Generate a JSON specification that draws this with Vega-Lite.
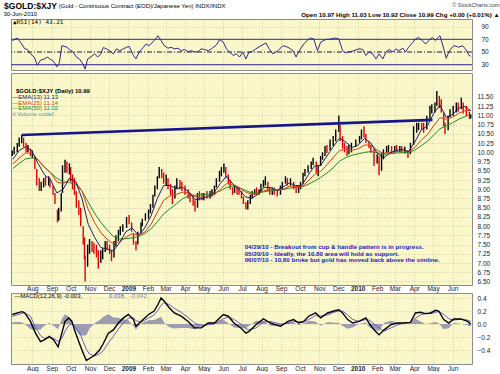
{
"$schema": "https://vega.github.io/schema/vega-lite/v6.json",
"background": "#ffffff",
"padding": {"left": 2, "top": 1, "right": 1, "bottom": 0},
"spacing": 0,
"config": {
 "view": {"fill": "#FAF8CB", "stroke": "#8C8C8C", "strokeWidth": 1},
 "axis": {"title": null, "domain": false, "ticks": false, "labelFont": "Liberation Sans", "labelFontSize": 6.5, "labelColor": "#222222", "gridColor": "#B8B48E", "gridDash": [1, 2], "gridWidth": 0.8, "gridOpacity": 0.8, "labelOverlap": false, "labelFlush": false},
 "text": {"font": "Liberation Sans"}
},
"datasets": {
 "price": [
  {"d":"2008-06-30","o":9.95,"h":10.05,"l":9.9,"c":10.0},
  {"d":"2008-07-03","o":10.0,"h":10.15,"l":9.95,"c":10.1},
  {"d":"2008-07-08","o":10.1,"h":10.25,"l":10.0,"c":10.2},
  {"d":"2008-07-11","o":10.2,"h":10.4,"l":10.15,"c":10.35},
  {"d":"2008-07-15","o":10.35,"h":10.47,"l":10.25,"c":10.42},
  {"d":"2008-07-18","o":10.4,"h":10.4,"l":10.15,"c":10.2},
  {"d":"2008-07-22","o":10.2,"h":10.25,"l":10.0,"c":10.05},
  {"d":"2008-07-25","o":10.05,"h":10.2,"l":10.0,"c":10.12},
  {"d":"2008-07-29","o":10.1,"h":10.1,"l":9.9,"c":9.95},
  {"d":"2008-08-01","o":9.95,"h":10.05,"l":9.85,"c":9.98},
  {"d":"2008-08-05","o":9.9,"h":9.9,"l":9.55,"c":9.6},
  {"d":"2008-08-08","o":9.55,"h":9.55,"l":9.1,"c":9.15},
  {"d":"2008-08-12","o":9.15,"h":9.3,"l":8.95,"c":9.0},
  {"d":"2008-08-15","o":9.0,"h":9.2,"l":8.95,"c":9.15},
  {"d":"2008-08-19","o":9.1,"h":9.3,"l":9.05,"c":9.25},
  {"d":"2008-08-22","o":9.25,"h":9.35,"l":9.1,"c":9.2},
  {"d":"2008-08-27","o":9.15,"h":9.35,"l":9.1,"c":9.3},
  {"d":"2008-08-29","o":9.3,"h":9.3,"l":9.05,"c":9.1},
  {"d":"2008-09-03","o":9.1,"h":9.1,"l":8.85,"c":8.9},
  {"d":"2008-09-06","o":8.9,"h":8.9,"l":8.6,"c":8.65},
  {"d":"2008-09-10","o":8.45,"h":8.45,"l":8.1,"c":8.2},
  {"d":"2008-09-12","o":8.2,"h":8.5,"l":8.15,"c":8.45},
  {"d":"2008-09-16","o":8.45,"h":8.9,"l":8.4,"c":8.85},
  {"d":"2008-09-18","o":8.9,"h":9.65,"l":8.9,"c":9.5},
  {"d":"2008-09-22","o":9.5,"h":9.8,"l":9.45,"c":9.7},
  {"d":"2008-09-25","o":9.7,"h":9.75,"l":9.45,"c":9.55},
  {"d":"2008-09-29","o":9.55,"h":9.7,"l":9.4,"c":9.6},
  {"d":"2008-10-01","o":9.6,"h":9.6,"l":9.2,"c":9.3},
  {"d":"2008-10-04","o":9.3,"h":9.4,"l":9.0,"c":9.2},
  {"d":"2008-10-07","o":9.2,"h":9.3,"l":8.85,"c":8.9},
  {"d":"2008-10-10","o":8.9,"h":8.95,"l":8.5,"c":8.6},
  {"d":"2008-10-14","o":8.6,"h":8.7,"l":8.3,"c":8.4},
  {"d":"2008-10-17","o":8.4,"h":8.5,"l":8.0,"c":8.1},
  {"d":"2008-10-21","o":8.0,"h":8.0,"l":7.5,"c":7.6},
  {"d":"2008-10-23","o":7.6,"h":7.7,"l":7.1,"c":7.2},
  {"d":"2008-10-24","o":7.2,"h":7.2,"l":6.5,"c":6.75},
  {"d":"2008-10-28","o":6.9,"h":7.5,"l":6.9,"c":7.4},
  {"d":"2008-10-31","o":7.35,"h":7.65,"l":7.25,"c":7.5},
  {"d":"2008-11-04","o":7.5,"h":7.6,"l":7.3,"c":7.45},
  {"d":"2008-11-07","o":7.45,"h":7.55,"l":7.25,"c":7.35},
  {"d":"2008-11-11","o":7.35,"h":7.5,"l":7.15,"c":7.25},
  {"d":"2008-11-14","o":7.25,"h":7.35,"l":6.85,"c":7.0},
  {"d":"2008-11-18","o":7.0,"h":7.35,"l":7.0,"c":7.25},
  {"d":"2008-11-21","o":7.25,"h":7.4,"l":7.1,"c":7.3},
  {"d":"2008-11-25","o":7.3,"h":7.6,"l":7.3,"c":7.5},
  {"d":"2008-11-28","o":7.5,"h":7.6,"l":7.35,"c":7.45},
  {"d":"2008-12-02","o":7.45,"h":7.5,"l":7.25,"c":7.3},
  {"d":"2008-12-05","o":7.3,"h":7.35,"l":7.05,"c":7.15},
  {"d":"2008-12-09","o":7.15,"h":7.6,"l":7.15,"c":7.55},
  {"d":"2008-12-12","o":7.55,"h":7.75,"l":7.45,"c":7.65},
  {"d":"2008-12-16","o":7.65,"h":7.9,"l":7.6,"c":7.85},
  {"d":"2008-12-19","o":7.85,"h":8.0,"l":7.75,"c":7.9},
  {"d":"2008-12-23","o":7.9,"h":8.05,"l":7.85,"c":8.0},
  {"d":"2008-12-29","o":8.0,"h":8.25,"l":7.95,"c":8.2},
  {"d":"2009-01-02","o":8.2,"h":8.3,"l":8.05,"c":8.15},
  {"d":"2009-01-06","o":8.1,"h":8.1,"l":7.85,"c":7.9},
  {"d":"2009-01-09","o":7.8,"h":7.8,"l":7.5,"c":7.6},
  {"d":"2009-01-13","o":7.6,"h":7.6,"l":7.35,"c":7.45},
  {"d":"2009-01-16","o":7.5,"h":7.85,"l":7.5,"c":7.8},
  {"d":"2009-01-21","o":7.8,"h":8.1,"l":7.8,"c":8.05},
  {"d":"2009-01-23","o":8.05,"h":8.2,"l":8.0,"c":8.15},
  {"d":"2009-01-28","o":8.2,"h":8.35,"l":8.15,"c":8.3},
  {"d":"2009-02-02","o":8.3,"h":8.45,"l":8.2,"c":8.4},
  {"d":"2009-02-05","o":8.4,"h":8.6,"l":8.35,"c":8.55},
  {"d":"2009-02-09","o":8.55,"h":8.85,"l":8.5,"c":8.8},
  {"d":"2009-02-12","o":8.8,"h":9.1,"l":8.8,"c":9.05},
  {"d":"2009-02-16","o":9.05,"h":9.35,"l":9.0,"c":9.3},
  {"d":"2009-02-19","o":9.3,"h":9.6,"l":9.3,"c":9.55},
  {"d":"2009-02-23","o":9.55,"h":9.55,"l":9.3,"c":9.4},
  {"d":"2009-02-26","o":9.4,"h":9.45,"l":9.15,"c":9.25},
  {"d":"2009-03-02","o":9.25,"h":9.4,"l":9.1,"c":9.3},
  {"d":"2009-03-05","o":9.3,"h":9.3,"l":9.0,"c":9.1},
  {"d":"2009-03-09","o":9.1,"h":9.15,"l":8.85,"c":8.95},
  {"d":"2009-03-12","o":8.95,"h":9.0,"l":8.6,"c":8.75},
  {"d":"2009-03-16","o":8.75,"h":9.1,"l":8.75,"c":9.0},
  {"d":"2009-03-19","o":9.0,"h":9.3,"l":9.0,"c":9.2},
  {"d":"2009-03-24","o":9.2,"h":9.25,"l":9.0,"c":9.1},
  {"d":"2009-03-27","o":9.1,"h":9.2,"l":8.95,"c":9.05},
  {"d":"2009-04-01","o":9.05,"h":9.1,"l":8.85,"c":8.95},
  {"d":"2009-04-06","o":8.95,"h":9.0,"l":8.75,"c":8.85},
  {"d":"2009-04-09","o":8.85,"h":8.9,"l":8.65,"c":8.75},
  {"d":"2009-04-14","o":8.75,"h":8.85,"l":8.55,"c":8.65},
  {"d":"2009-04-17","o":8.65,"h":8.7,"l":8.4,"c":8.5},
  {"d":"2009-04-21","o":8.5,"h":8.9,"l":8.5,"c":8.85},
  {"d":"2009-04-24","o":8.85,"h":8.95,"l":8.7,"c":8.8},
  {"d":"2009-04-28","o":8.8,"h":8.9,"l":8.7,"c":8.75},
  {"d":"2009-05-01","o":8.75,"h":8.9,"l":8.7,"c":8.85},
  {"d":"2009-05-06","o":8.85,"h":8.95,"l":8.75,"c":8.8},
  {"d":"2009-05-11","o":8.8,"h":8.95,"l":8.75,"c":8.9},
  {"d":"2009-05-14","o":8.9,"h":9.0,"l":8.8,"c":8.95},
  {"d":"2009-05-18","o":8.95,"h":9.1,"l":8.85,"c":9.05},
  {"d":"2009-05-21","o":9.05,"h":9.3,"l":9.05,"c":9.25},
  {"d":"2009-05-26","o":9.25,"h":9.5,"l":9.2,"c":9.45},
  {"d":"2009-05-29","o":9.45,"h":9.6,"l":9.35,"c":9.55},
  {"d":"2009-06-02","o":9.55,"h":9.7,"l":9.45,"c":9.6},
  {"d":"2009-06-05","o":9.6,"h":9.6,"l":9.3,"c":9.35},
  {"d":"2009-06-09","o":9.35,"h":9.4,"l":9.15,"c":9.2},
  {"d":"2009-06-12","o":9.2,"h":9.25,"l":9.0,"c":9.05},
  {"d":"2009-06-16","o":9.05,"h":9.05,"l":8.85,"c":8.9},
  {"d":"2009-06-19","o":8.9,"h":9.1,"l":8.9,"c":9.0},
  {"d":"2009-06-23","o":9.0,"h":9.05,"l":8.85,"c":8.95},
  {"d":"2009-06-26","o":8.95,"h":9.05,"l":8.85,"c":8.9},
  {"d":"2009-06-30","o":8.9,"h":8.95,"l":8.75,"c":8.8},
  {"d":"2009-07-03","o":8.8,"h":8.8,"l":8.6,"c":8.65},
  {"d":"2009-07-07","o":8.65,"h":8.65,"l":8.45,"c":8.5},
  {"d":"2009-07-10","o":8.5,"h":8.7,"l":8.45,"c":8.65},
  {"d":"2009-07-14","o":8.65,"h":8.85,"l":8.6,"c":8.8},
  {"d":"2009-07-17","o":8.8,"h":8.95,"l":8.75,"c":8.9},
  {"d":"2009-07-21","o":8.9,"h":9.0,"l":8.85,"c":8.95},
  {"d":"2009-07-24","o":8.95,"h":9.05,"l":8.85,"c":8.9},
  {"d":"2009-07-28","o":8.9,"h":9.0,"l":8.85,"c":8.95},
  {"d":"2009-07-31","o":8.95,"h":9.15,"l":8.9,"c":9.1},
  {"d":"2009-08-04","o":9.1,"h":9.25,"l":9.05,"c":9.2},
  {"d":"2009-08-07","o":9.2,"h":9.35,"l":9.1,"c":9.25},
  {"d":"2009-08-11","o":9.2,"h":9.2,"l":8.95,"c":9.0},
  {"d":"2009-08-14","o":9.0,"h":9.05,"l":8.85,"c":8.95},
  {"d":"2009-08-18","o":8.95,"h":9.05,"l":8.85,"c":9.0},
  {"d":"2009-08-21","o":9.0,"h":9.05,"l":8.85,"c":8.95},
  {"d":"2009-08-26","o":8.95,"h":9.0,"l":8.8,"c":8.9},
  {"d":"2009-08-31","o":8.9,"h":9.1,"l":8.85,"c":9.05},
  {"d":"2009-09-03","o":9.05,"h":9.2,"l":9.0,"c":9.15},
  {"d":"2009-09-08","o":9.15,"h":9.35,"l":9.15,"c":9.3},
  {"d":"2009-09-11","o":9.3,"h":9.3,"l":9.1,"c":9.2},
  {"d":"2009-09-16","o":9.2,"h":9.3,"l":9.1,"c":9.25},
  {"d":"2009-09-21","o":9.2,"h":9.2,"l":9.0,"c":9.05},
  {"d":"2009-09-25","o":9.05,"h":9.1,"l":8.9,"c":8.95},
  {"d":"2009-09-29","o":8.95,"h":9.1,"l":8.9,"c":9.05},
  {"d":"2009-10-02","o":9.05,"h":9.2,"l":9.0,"c":9.15},
  {"d":"2009-10-06","o":9.15,"h":9.45,"l":9.15,"c":9.4},
  {"d":"2009-10-09","o":9.4,"h":9.55,"l":9.35,"c":9.5},
  {"d":"2009-10-14","o":9.5,"h":9.65,"l":9.45,"c":9.6},
  {"d":"2009-10-19","o":9.6,"h":9.75,"l":9.55,"c":9.7},
  {"d":"2009-10-22","o":9.7,"h":9.85,"l":9.65,"c":9.8},
  {"d":"2009-10-27","o":9.75,"h":9.75,"l":9.45,"c":9.5},
  {"d":"2009-10-30","o":9.5,"h":9.65,"l":9.35,"c":9.6},
  {"d":"2009-11-03","o":9.65,"h":9.9,"l":9.63,"c":9.85},
  {"d":"2009-11-06","o":9.85,"h":10.0,"l":9.8,"c":9.95},
  {"d":"2009-11-10","o":9.95,"h":10.17,"l":9.9,"c":10.1},
  {"d":"2009-11-13","o":10.1,"h":10.2,"l":9.98,"c":10.05},
  {"d":"2009-11-18","o":10.05,"h":10.35,"l":10.05,"c":10.3},
  {"d":"2009-11-23","o":10.3,"h":10.44,"l":10.17,"c":10.35},
  {"d":"2009-11-27","o":10.35,"h":10.62,"l":10.3,"c":10.55},
  {"d":"2009-12-02","o":10.55,"h":11.0,"l":10.55,"c":10.7},
  {"d":"2009-12-04","o":10.7,"h":10.75,"l":10.3,"c":10.35},
  {"d":"2009-12-08","o":10.35,"h":10.44,"l":10.1,"c":10.2},
  {"d":"2009-12-11","o":10.2,"h":10.26,"l":10.0,"c":10.1},
  {"d":"2009-12-15","o":10.1,"h":10.17,"l":9.9,"c":10.0},
  {"d":"2009-12-18","o":10.0,"h":10.2,"l":9.95,"c":10.1},
  {"d":"2009-12-22","o":10.1,"h":10.26,"l":10.0,"c":10.15},
  {"d":"2009-12-29","o":10.15,"h":10.35,"l":10.15,"c":10.3},
  {"d":"2010-01-04","o":10.3,"h":10.44,"l":10.26,"c":10.4},
  {"d":"2010-01-07","o":10.4,"h":10.62,"l":10.35,"c":10.55},
  {"d":"2010-01-11","o":10.55,"h":10.71,"l":10.4,"c":10.5},
  {"d":"2010-01-14","o":10.5,"h":10.5,"l":10.26,"c":10.32},
  {"d":"2010-01-19","o":10.32,"h":10.3,"l":10.12,"c":10.2},
  {"d":"2010-01-22","o":10.2,"h":10.2,"l":9.99,"c":10.05},
  {"d":"2010-01-27","o":10.05,"h":10.1,"l":9.63,"c":9.8},
  {"d":"2010-02-01","o":9.8,"h":9.95,"l":9.7,"c":9.85},
  {"d":"2010-02-04","o":9.85,"h":9.9,"l":9.38,"c":9.5},
  {"d":"2010-02-08","o":9.5,"h":9.99,"l":9.5,"c":9.85},
  {"d":"2010-02-11","o":9.85,"h":10.08,"l":9.81,"c":10.0},
  {"d":"2010-02-16","o":10.0,"h":10.17,"l":9.99,"c":10.1},
  {"d":"2010-02-19","o":10.1,"h":10.2,"l":10.0,"c":10.12},
  {"d":"2010-02-24","o":10.12,"h":10.17,"l":9.99,"c":10.05},
  {"d":"2010-03-01","o":10.05,"h":10.17,"l":9.99,"c":10.12},
  {"d":"2010-03-04","o":10.12,"h":10.2,"l":10.02,"c":10.08},
  {"d":"2010-03-09","o":10.08,"h":10.17,"l":10.0,"c":10.12},
  {"d":"2010-03-12","o":10.12,"h":10.17,"l":9.99,"c":10.05},
  {"d":"2010-03-17","o":10.05,"h":10.15,"l":9.97,"c":10.08},
  {"d":"2010-03-22","o":10.05,"h":10.05,"l":9.85,"c":9.92},
  {"d":"2010-03-26","o":9.92,"h":10.26,"l":9.95,"c":10.2},
  {"d":"2010-03-31","o":10.2,"h":10.71,"l":10.2,"c":10.6},
  {"d":"2010-04-05","o":10.6,"h":10.8,"l":10.53,"c":10.7},
  {"d":"2010-04-08","o":10.7,"h":10.8,"l":10.6,"c":10.75},
  {"d":"2010-04-13","o":10.75,"h":10.8,"l":10.62,"c":10.7},
  {"d":"2010-04-16","o":10.7,"h":10.8,"l":10.53,"c":10.6},
  {"d":"2010-04-21","o":10.6,"h":10.99,"l":10.62,"c":10.9},
  {"d":"2010-04-26","o":10.9,"h":11.26,"l":10.89,"c":11.15},
  {"d":"2010-04-29","o":11.15,"h":11.3,"l":11.05,"c":11.2},
  {"d":"2010-05-04","o":11.2,"h":11.35,"l":11.08,"c":11.3},
  {"d":"2010-05-07","o":11.3,"h":11.66,"l":11.26,"c":11.5},
  {"d":"2010-05-11","o":11.5,"h":11.53,"l":11.2,"c":11.3},
  {"d":"2010-05-14","o":11.3,"h":11.44,"l":11.08,"c":11.15},
  {"d":"2010-05-18","o":11.08,"h":11.08,"l":10.71,"c":10.8},
  {"d":"2010-05-20","o":10.8,"h":10.8,"l":10.5,"c":10.6},
  {"d":"2010-05-25","o":10.6,"h":10.99,"l":10.6,"c":10.9},
  {"d":"2010-05-28","o":10.9,"h":11.17,"l":10.95,"c":11.1},
  {"d":"2010-06-02","o":11.1,"h":11.26,"l":10.99,"c":11.15},
  {"d":"2010-06-07","o":11.15,"h":11.35,"l":11.08,"c":11.25},
  {"d":"2010-06-10","o":11.25,"h":11.35,"l":11.1,"c":11.2},
  {"d":"2010-06-15","o":11.2,"h":11.48,"l":11.17,"c":11.4},
  {"d":"2010-06-18","o":11.4,"h":11.35,"l":11.05,"c":11.15},
  {"d":"2010-06-23","o":11.15,"h":11.26,"l":10.99,"c":11.1},
  {"d":"2010-06-28","o":11.1,"h":11.1,"l":10.9,"c":11.0},
  {"d":"2010-06-30","o":10.97,"h":11.03,"l":10.92,"c":10.99}
 ],
 "ema": [
  {"d":"2008-07-01","e13":9.81,"e25":9.68,"e50":9.56},
  {"d":"2008-07-11","e13":10.05,"e25":9.85,"e50":9.7},
  {"d":"2008-07-21","e13":10.15,"e25":9.98,"e50":9.82},
  {"d":"2008-07-31","e13":10.05,"e25":9.98,"e50":9.85},
  {"d":"2008-08-10","e13":9.7,"e25":9.8,"e50":9.8},
  {"d":"2008-08-20","e13":9.4,"e25":9.6,"e50":9.6},
  {"d":"2008-08-30","e13":9.25,"e25":9.45,"e50":9.45},
  {"d":"2008-09-09","e13":8.9,"e25":9.2,"e50":9.3},
  {"d":"2008-09-19","e13":9.0,"e25":9.15,"e50":9.2},
  {"d":"2008-09-29","e13":9.3,"e25":9.25,"e50":9.18},
  {"d":"2008-10-09","e13":9.2,"e25":9.2,"e50":9.12},
  {"d":"2008-10-19","e13":8.75,"e25":8.95,"e50":8.95},
  {"d":"2008-10-29","e13":8.05,"e25":8.45,"e50":8.65},
  {"d":"2008-11-08","e13":7.7,"e25":8.1,"e50":8.35},
  {"d":"2008-11-18","e13":7.42,"e25":7.82,"e50":8.1},
  {"d":"2008-11-28","e13":7.38,"e25":7.65,"e50":7.9},
  {"d":"2008-12-08","e13":7.33,"e25":7.52,"e50":7.72},
  {"d":"2008-12-18","e13":7.55,"e25":7.58,"e50":7.65},
  {"d":"2008-12-28","e13":7.85,"e25":7.7,"e50":7.66},
  {"d":"2009-01-07","e13":7.95,"e25":7.8,"e50":7.68},
  {"d":"2009-01-17","e13":7.75,"e25":7.76,"e50":7.72},
  {"d":"2009-01-27","e13":7.95,"e25":7.84,"e50":7.8},
  {"d":"2009-02-06","e13":8.28,"e25":8.05,"e50":7.93},
  {"d":"2009-02-16","e13":8.75,"e25":8.38,"e50":8.12},
  {"d":"2009-02-26","e13":9.1,"e25":8.7,"e50":8.33},
  {"d":"2009-03-08","e13":9.1,"e25":8.82,"e50":8.47},
  {"d":"2009-03-18","e13":9.02,"e25":8.86,"e50":8.6},
  {"d":"2009-03-28","e13":9.05,"e25":8.92,"e50":8.74},
  {"d":"2009-04-07","e13":8.93,"e25":8.9,"e50":8.82},
  {"d":"2009-04-17","e13":8.72,"e25":8.8,"e50":8.84},
  {"d":"2009-04-27","e13":8.74,"e25":8.77,"e50":8.85},
  {"d":"2009-05-07","e13":8.8,"e25":8.79,"e50":8.86},
  {"d":"2009-05-17","e13":8.9,"e25":8.84,"e50":8.9},
  {"d":"2009-05-27","e13":9.15,"e25":9.0,"e50":8.95},
  {"d":"2009-06-06","e13":9.35,"e25":9.15,"e50":9.05},
  {"d":"2009-06-16","e13":9.15,"e25":9.12,"e50":9.08},
  {"d":"2009-06-26","e13":9.0,"e25":9.05,"e50":9.04},
  {"d":"2009-07-06","e13":8.8,"e25":8.93,"e50":8.97},
  {"d":"2009-07-16","e13":8.75,"e25":8.86,"e50":8.9},
  {"d":"2009-07-26","e13":8.86,"e25":8.88,"e50":8.9},
  {"d":"2009-08-05","e13":9.05,"e25":8.96,"e50":8.93},
  {"d":"2009-08-15","e13":9.05,"e25":9.0,"e50":8.96},
  {"d":"2009-08-25","e13":8.97,"e25":8.97,"e50":8.97},
  {"d":"2009-09-04","e13":9.06,"e25":9.0,"e50":8.99},
  {"d":"2009-09-14","e13":9.17,"e25":9.08,"e50":9.03},
  {"d":"2009-09-24","e13":9.1,"e25":9.08,"e50":9.05},
  {"d":"2009-10-04","e13":9.1,"e25":9.07,"e50":9.06},
  {"d":"2009-10-14","e13":9.38,"e25":9.22,"e50":9.13},
  {"d":"2009-10-24","e13":9.62,"e25":9.4,"e50":9.22},
  {"d":"2009-11-03","e13":9.65,"e25":9.48,"e50":9.32},
  {"d":"2009-11-13","e13":9.9,"e25":9.66,"e50":9.44},
  {"d":"2009-11-23","e13":10.15,"e25":9.86,"e50":9.58},
  {"d":"2009-12-03","e13":10.38,"e25":10.05,"e50":9.76},
  {"d":"2009-12-13","e13":10.28,"e25":10.08,"e50":9.86},
  {"d":"2009-12-23","e13":10.13,"e25":10.06,"e50":9.92},
  {"d":"2010-01-02","e13":10.2,"e25":10.1,"e50":9.96},
  {"d":"2010-01-12","e13":10.38,"e25":10.2,"e50":10.0},
  {"d":"2010-01-22","e13":10.25,"e25":10.19,"e50":10.02},
  {"d":"2010-02-01","e13":9.98,"e25":10.06,"e50":9.99},
  {"d":"2010-02-11","e13":9.85,"e25":9.97,"e50":9.95},
  {"d":"2010-02-21","e13":9.98,"e25":10.0,"e50":9.96},
  {"d":"2010-03-03","e13":10.05,"e25":10.02,"e50":9.98},
  {"d":"2010-03-13","e13":10.08,"e25":10.04,"e50":9.99},
  {"d":"2010-03-23","e13":10.02,"e25":10.03,"e50":10.0},
  {"d":"2010-04-02","e13":10.28,"e25":10.13,"e50":10.06},
  {"d":"2010-04-12","e13":10.6,"e25":10.33,"e50":10.18},
  {"d":"2010-04-22","e13":10.72,"e25":10.48,"e50":10.3},
  {"d":"2010-05-02","e13":11.05,"e25":10.72,"e50":10.47},
  {"d":"2010-05-12","e13":11.28,"e25":10.94,"e50":10.64},
  {"d":"2010-05-22","e13":10.95,"e25":10.9,"e50":10.72},
  {"d":"2010-06-01","e13":11.02,"e25":10.95,"e50":10.8},
  {"d":"2010-06-11","e13":11.2,"e25":11.06,"e50":10.9},
  {"d":"2010-06-21","e13":11.24,"e25":11.13,"e50":10.97},
  {"d":"2010-06-30","e13":11.13,"e25":11.14,"e50":11.02}
 ],
 "trend": [
  {"d":"2008-07-15","v":10.47},
  {"d":"2010-04-30","v":10.88}
 ],
 "rsi": [
  {"d":"2008-06-30","rsi":68},{"d":"2008-07-08","rsi":72},{"d":"2008-07-13","rsi":65.5},{"d":"2008-07-20","rsi":55},
  {"d":"2008-07-24","rsi":54},{"d":"2008-07-29","rsi":47},{"d":"2008-08-04","rsi":42},{"d":"2008-08-09","rsi":29},
  {"d":"2008-08-14","rsi":37},{"d":"2008-08-20","rsi":39},{"d":"2008-08-25","rsi":42},{"d":"2008-08-29","rsi":39},
  {"d":"2008-09-04","rsi":35},{"d":"2008-09-09","rsi":26.5},{"d":"2008-09-13","rsi":33},{"d":"2008-09-17","rsi":60},
  {"d":"2008-09-20","rsi":59},{"d":"2008-09-25","rsi":57.5},{"d":"2008-09-29","rsi":54},{"d":"2008-10-05","rsi":50},
  {"d":"2008-10-10","rsi":42},{"d":"2008-10-15","rsi":39},{"d":"2008-10-21","rsi":30},{"d":"2008-10-24","rsi":23},
  {"d":"2008-10-28","rsi":39},{"d":"2008-11-02","rsi":42},{"d":"2008-11-08","rsi":47},{"d":"2008-11-13","rsi":42},
  {"d":"2008-11-18","rsi":47},{"d":"2008-11-22","rsi":57},{"d":"2008-11-27","rsi":55},{"d":"2008-12-02","rsi":52},
  {"d":"2008-12-08","rsi":47},{"d":"2008-12-13","rsi":55},{"d":"2008-12-18","rsi":52},{"d":"2008-12-24","rsi":55},
  {"d":"2008-12-29","rsi":57.5},{"d":"2009-01-02","rsi":59},{"d":"2009-01-09","rsi":44.5},{"d":"2009-01-13","rsi":39},
  {"d":"2009-01-18","rsi":50},{"d":"2009-01-25","rsi":57.5},{"d":"2009-01-29","rsi":62.5},{"d":"2009-02-03","rsi":60},
  {"d":"2009-02-09","rsi":66},{"d":"2009-02-14","rsi":71.5},{"d":"2009-02-17","rsi":75.5},{"d":"2009-02-22","rsi":68},
  {"d":"2009-02-27","rsi":60},{"d":"2009-03-05","rsi":56},{"d":"2009-03-10","rsi":57.5},{"d":"2009-03-15","rsi":55},
  {"d":"2009-03-21","rsi":56},{"d":"2009-03-26","rsi":52},{"d":"2009-03-31","rsi":54},{"d":"2009-04-06","rsi":50.5},
  {"d":"2009-04-11","rsi":52},{"d":"2009-04-16","rsi":50},{"d":"2009-04-22","rsi":50.5},{"d":"2009-04-27","rsi":55},
  {"d":"2009-05-02","rsi":54},{"d":"2009-05-08","rsi":52},{"d":"2009-05-13","rsi":55},{"d":"2009-05-21","rsi":61},
  {"d":"2009-05-26","rsi":69.5},{"d":"2009-06-01","rsi":65.5},{"d":"2009-06-06","rsi":55},{"d":"2009-06-11","rsi":50},
  {"d":"2009-06-17","rsi":44.5},{"d":"2009-06-22","rsi":47},{"d":"2009-06-27","rsi":42},{"d":"2009-07-02","rsi":50},
  {"d":"2009-07-07","rsi":39},{"d":"2009-07-12","rsi":50},{"d":"2009-07-16","rsi":50},{"d":"2009-07-23","rsi":55},
  {"d":"2009-07-31","rsi":60},{"d":"2009-08-08","rsi":64},{"d":"2009-08-13","rsi":55},{"d":"2009-08-19","rsi":47},
  {"d":"2009-08-27","rsi":52},{"d":"2009-09-04","rsi":60},{"d":"2009-09-12","rsi":57.5},{"d":"2009-09-20","rsi":52},
  {"d":"2009-09-25","rsi":42},{"d":"2009-09-29","rsi":50.5},{"d":"2009-10-07","rsi":62.5},{"d":"2009-10-14","rsi":69.5},
  {"d":"2009-10-18","rsi":72},{"d":"2009-10-23","rsi":70.5},{"d":"2009-10-29","rsi":52},{"d":"2009-11-03","rsi":65.5},
  {"d":"2009-11-11","rsi":69.5},{"d":"2009-11-19","rsi":70.5},{"d":"2009-11-27","rsi":72},{"d":"2009-12-02","rsi":70.5},
  {"d":"2009-12-08","rsi":52},{"d":"2009-12-13","rsi":48.5},{"d":"2009-12-18","rsi":50},{"d":"2009-12-26","rsi":52},
  {"d":"2010-01-03","rsi":55},{"d":"2010-01-09","rsi":54},{"d":"2010-01-14","rsi":44.5},{"d":"2010-01-19","rsi":50},
  {"d":"2010-01-25","rsi":47},{"d":"2010-01-30","rsi":39},{"d":"2010-02-04","rsi":47},{"d":"2010-02-10","rsi":39},
  {"d":"2010-02-15","rsi":50},{"d":"2010-02-20","rsi":54},{"d":"2010-02-26","rsi":50},{"d":"2010-03-03","rsi":55},
  {"d":"2010-03-07","rsi":52},{"d":"2010-03-14","rsi":56},{"d":"2010-03-18","rsi":50},{"d":"2010-03-23","rsi":57.5},
  {"d":"2010-03-30","rsi":65.5},{"d":"2010-04-03","rsi":70.5},{"d":"2010-04-08","rsi":73},{"d":"2010-04-14","rsi":68},
  {"d":"2010-04-19","rsi":62.5},{"d":"2010-04-24","rsi":68},{"d":"2010-04-30","rsi":73},{"d":"2010-05-05","rsi":68},
  {"d":"2010-05-08","rsi":72},{"d":"2010-05-12","rsi":75.5},{"d":"2010-05-15","rsi":66},{"d":"2010-05-18","rsi":55},
  {"d":"2010-05-22","rsi":40},{"d":"2010-05-27","rsi":52},{"d":"2010-06-03","rsi":60},{"d":"2010-06-11","rsi":57.5},
  {"d":"2010-06-17","rsi":60},{"d":"2010-06-22","rsi":54},{"d":"2010-06-27","rsi":45},{"d":"2010-06-30","rsi":43.21}
 ],
 "macd": [
  {"d":"2008-06-30","macd":0.146,"sig":0.12,"hist":0.026},
  {"d":"2008-07-11","macd":0.18,"sig":0.15,"hist":0.03},
  {"d":"2008-07-16","macd":0.19,"sig":0.165,"hist":0.025},
  {"d":"2008-07-20","macd":0.17,"sig":0.17,"hist":0.0},
  {"d":"2008-07-29","macd":0.04,"sig":0.12,"hist":-0.08},
  {"d":"2008-08-06","macd":-0.14,"sig":-0.05,"hist":-0.09},
  {"d":"2008-08-14","macd":-0.27,"sig":-0.18,"hist":-0.09},
  {"d":"2008-08-20","macd":-0.245,"sig":-0.22,"hist":-0.025},
  {"d":"2008-08-28","macd":-0.19,"sig":-0.21,"hist":0.02},
  {"d":"2008-09-04","macd":-0.245,"sig":-0.22,"hist":-0.025},
  {"d":"2008-09-11","macd":-0.35,"sig":-0.27,"hist":-0.08},
  {"d":"2008-09-17","macd":-0.14,"sig":-0.22,"hist":0.08},
  {"d":"2008-09-22","macd":0.04,"sig":-0.11,"hist":0.15},
  {"d":"2008-09-28","macd":0.094,"sig":-0.02,"hist":0.114},
  {"d":"2008-10-03","macd":0.04,"sig":0.0,"hist":0.04},
  {"d":"2008-10-07","macd":-0.09,"sig":-0.03,"hist":-0.06},
  {"d":"2008-10-15","macd":-0.3,"sig":-0.13,"hist":-0.17},
  {"d":"2008-10-21","macd":-0.45,"sig":-0.27,"hist":-0.18},
  {"d":"2008-10-26","macd":-0.56,"sig":-0.39,"hist":-0.17},
  {"d":"2008-10-31","macd":-0.53,"sig":-0.46,"hist":-0.07},
  {"d":"2008-11-08","macd":-0.48,"sig":-0.49,"hist":0.01},
  {"d":"2008-11-16","macd":-0.4,"sig":-0.46,"hist":0.06},
  {"d":"2008-11-22","macd":-0.3,"sig":-0.41,"hist":0.11},
  {"d":"2008-11-30","macd":-0.14,"sig":-0.29,"hist":0.15},
  {"d":"2008-12-08","macd":-0.09,"sig":-0.19,"hist":0.1},
  {"d":"2008-12-16","macd":0.015,"sig":-0.08,"hist":0.095},
  {"d":"2008-12-24","macd":0.094,"sig":0.02,"hist":0.074},
  {"d":"2009-01-01","macd":0.146,"sig":0.09,"hist":0.056},
  {"d":"2009-01-09","macd":0.068,"sig":0.1,"hist":-0.032},
  {"d":"2009-01-13","macd":-0.036,"sig":0.05,"hist":-0.086},
  {"d":"2009-01-21","macd":0.04,"sig":0.03,"hist":0.01},
  {"d":"2009-02-02","macd":0.146,"sig":0.09,"hist":0.056},
  {"d":"2009-02-11","macd":0.2,"sig":0.14,"hist":0.06},
  {"d":"2009-02-17","macd":0.3,"sig":0.21,"hist":0.09},
  {"d":"2009-02-22","macd":0.4,"sig":0.29,"hist":0.11},
  {"d":"2009-02-27","macd":0.35,"sig":0.33,"hist":0.02},
  {"d":"2009-03-07","macd":0.25,"sig":0.3,"hist":-0.05},
  {"d":"2009-03-15","macd":0.17,"sig":0.24,"hist":-0.07},
  {"d":"2009-03-26","macd":0.12,"sig":0.18,"hist":-0.06},
  {"d":"2009-04-06","macd":0.04,"sig":0.1,"hist":-0.06},
  {"d":"2009-04-16","macd":-0.06,"sig":0.02,"hist":-0.08},
  {"d":"2009-04-27","macd":-0.06,"sig":-0.03,"hist":-0.03},
  {"d":"2009-05-08","macd":0.015,"sig":-0.01,"hist":0.025},
  {"d":"2009-05-18","macd":0.015,"sig":0.0,"hist":0.015},
  {"d":"2009-06-01","macd":0.146,"sig":0.08,"hist":0.066},
  {"d":"2009-06-09","macd":0.12,"sig":0.11,"hist":0.01},
  {"d":"2009-06-18","macd":0.015,"sig":0.07,"hist":-0.055},
  {"d":"2009-06-29","macd":-0.06,"sig":0.0,"hist":-0.06},
  {"d":"2009-07-07","macd":-0.14,"sig":-0.07,"hist":-0.07},
  {"d":"2009-07-12","macd":-0.115,"sig":-0.09,"hist":-0.025},
  {"d":"2009-07-23","macd":-0.01,"sig":-0.06,"hist":0.05},
  {"d":"2009-08-04","macd":0.078,"sig":0.03,"hist":0.048},
  {"d":"2009-08-15","macd":0.015,"sig":0.04,"hist":-0.025},
  {"d":"2009-08-31","macd":-0.036,"sig":0.0,"hist":-0.036},
  {"d":"2009-09-12","macd":0.04,"sig":0.01,"hist":0.03},
  {"d":"2009-09-21","macd":0.068,"sig":0.04,"hist":0.028},
  {"d":"2009-09-29","macd":0.015,"sig":0.035,"hist":-0.02},
  {"d":"2009-10-07","macd":0.04,"sig":0.03,"hist":0.01},
  {"d":"2009-10-15","macd":0.12,"sig":0.07,"hist":0.05},
  {"d":"2009-10-26","macd":0.17,"sig":0.13,"hist":0.04},
  {"d":"2009-11-03","macd":0.094,"sig":0.12,"hist":-0.026},
  {"d":"2009-11-14","macd":0.17,"sig":0.14,"hist":0.03},
  {"d":"2009-11-24","macd":0.2,"sig":0.18,"hist":0.02},
  {"d":"2009-12-02","macd":0.22,"sig":0.2,"hist":0.02},
  {"d":"2009-12-08","macd":0.17,"sig":0.2,"hist":-0.03},
  {"d":"2009-12-16","macd":0.068,"sig":0.14,"hist":-0.072},
  {"d":"2009-12-24","macd":0.015,"sig":0.07,"hist":-0.055},
  {"d":"2010-01-03","macd":0.04,"sig":0.04,"hist":0.0},
  {"d":"2010-01-14","macd":0.094,"sig":0.07,"hist":0.024},
  {"d":"2010-01-19","macd":0.015,"sig":0.06,"hist":-0.045},
  {"d":"2010-01-27","macd":-0.09,"sig":0.0,"hist":-0.09},
  {"d":"2010-02-04","macd":-0.167,"sig":-0.06,"hist":-0.107},
  {"d":"2010-02-12","macd":-0.09,"sig":-0.11,"hist":0.02},
  {"d":"2010-02-23","macd":-0.01,"sig":-0.06,"hist":0.05},
  {"d":"2010-03-06","macd":0.015,"sig":-0.01,"hist":0.025},
  {"d":"2010-03-15","macd":0.015,"sig":0.01,"hist":0.005},
  {"d":"2010-03-26","macd":0.026,"sig":0.02,"hist":0.006},
  {"d":"2010-04-03","macd":0.17,"sig":0.09,"hist":0.08},
  {"d":"2010-04-11","macd":0.18,"sig":0.14,"hist":0.04},
  {"d":"2010-04-19","macd":0.16,"sig":0.16,"hist":0.0},
  {"d":"2010-04-27","macd":0.17,"sig":0.16,"hist":0.01},
  {"d":"2010-05-05","macd":0.21,"sig":0.18,"hist":0.03},
  {"d":"2010-05-10","macd":0.2,"sig":0.19,"hist":0.01},
  {"d":"2010-05-18","macd":0.068,"sig":0.15,"hist":-0.082},
  {"d":"2010-05-26","macd":0.015,"sig":0.08,"hist":-0.065},
  {"d":"2010-06-03","macd":0.078,"sig":0.06,"hist":0.018},
  {"d":"2010-06-14","macd":0.078,"sig":0.075,"hist":0.003},
  {"d":"2010-06-25","macd":0.04,"sig":0.06,"hist":-0.02},
  {"d":"2010-06-30","macd":-0.003,"sig":0.038,"hist":-0.042}
 ]
},
"vconcat": [
 {
  "width": 461, "height": 51,
  "layer": [
   {"data": {"values": [{"lvl": 70}, {"lvl": 30}]}, "mark": {"type": "rule", "color": "#5B4FA6", "strokeWidth": 1.2},
    "encoding": {"y": {"field": "lvl", "type": "quantitative"}}},
   {"data": {"values": [{"lvl": 50}]}, "mark": {"type": "rule", "color": "#222244", "strokeWidth": 1, "strokeDash": [5, 2, 1, 2]},
    "encoding": {"y": {"field": "lvl", "type": "quantitative"}}},
   {"data": {"name": "rsi"}, "mark": {"type": "line", "color": "#2A2A8A", "strokeWidth": 1},
    "encoding": {
     "x": {"field": "d", "type": "temporal",
      "scale": {"type": "utc", "domain": [{"year": 2008, "month": 6, "date": 28, "utc": true}, {"year": 2010, "month": 7, "date": 2, "utc": true}]},
      "axis": {"labels": false, "grid": true, "tickCount": 200, "labelPadding": 0, "minExtent": 0, "maxExtent": 0, "values": [{"year":2008,"month":8,"date":1,"utc":true},{"year":2008,"month":9,"date":1,"utc":true},{"year":2008,"month":10,"date":1,"utc":true},{"year":2008,"month":11,"date":1,"utc":true},{"year":2008,"month":12,"date":1,"utc":true},{"year":2009,"month":1,"date":1,"utc":true},{"year":2009,"month":2,"date":1,"utc":true},{"year":2009,"month":3,"date":1,"utc":true},{"year":2009,"month":4,"date":1,"utc":true},{"year":2009,"month":5,"date":1,"utc":true},{"year":2009,"month":6,"date":1,"utc":true},{"year":2009,"month":7,"date":1,"utc":true},{"year":2009,"month":8,"date":1,"utc":true},{"year":2009,"month":9,"date":1,"utc":true},{"year":2009,"month":10,"date":1,"utc":true},{"year":2009,"month":11,"date":1,"utc":true},{"year":2009,"month":12,"date":1,"utc":true},{"year":2010,"month":1,"date":1,"utc":true},{"year":2010,"month":2,"date":1,"utc":true},{"year":2010,"month":3,"date":1,"utc":true},{"year":2010,"month":4,"date":1,"utc":true},{"year":2010,"month":5,"date":1,"utc":true},{"year":2010,"month":6,"date":1,"utc":true}]}},
     "y": {"field": "rsi", "type": "quantitative", "scale": {"domain": [21.6, 102], "nice": false, "zero": false},
      "axis": {"orient": "right", "values": [30, 50, 70, 90], "format": "d", "tickCount": 200, "grid": true, "labelPadding": 9, "labelOverlap": false}}}},
   {"data": {"values": [{"d": "2008-06-17", "v": 123, "t": "$GOLD:$XJY"}]}, "mark": {"type": "text", "fontWeight": "bold", "fontSize": 8.5, "align": "left", "baseline": "middle", "color": "#000000"},
    "encoding": {"x": {"field": "d", "type": "temporal"}, "y": {"field": "v", "type": "quantitative"}, "text": {"field": "t"}}},
   {"data": {"values": [{"d": "2008-09-12", "v": 123, "t": "(Gold - Continuous Contract (EOD)/Japanese Yen) INDX/INDX"}]}, "mark": {"type": "text", "fontSize": 6, "align": "left", "baseline": "middle", "color": "#000000"},
    "encoding": {"x": {"field": "d", "type": "temporal"}, "y": {"field": "v", "type": "quantitative"}, "text": {"field": "t"}}},
   {"data": {"values": [{"d": "2008-06-16", "v": 110, "t": "30-Jun-2010"}]}, "mark": {"type": "text", "fontSize": 6, "align": "left", "baseline": "middle", "color": "#000000"},
    "encoding": {"x": {"field": "d", "type": "temporal"}, "y": {"field": "v", "type": "quantitative"}, "text": {"field": "t"}}},
   {"data": {"values": [{"d": "2010-08-15", "v": 124.5, "t": "© StockCharts.com"}]}, "mark": {"type": "text", "fontSize": 5.5, "align": "right", "baseline": "middle", "color": "#444444"},
    "encoding": {"x": {"field": "d", "type": "temporal"}, "y": {"field": "v", "type": "quantitative"}, "text": {"field": "t"}}},
   {"data": {"values": [{"d": "2010-08-15", "v": 109, "t": "Open 10.97  High 11.03  Low 10.92  Close 10.99  Chg +0.00 (+0.01%) ▲"}]}, "mark": {"type": "text", "fontSize": 6.2, "fontWeight": "bold", "align": "right", "baseline": "middle", "color": "#000000"},
    "encoding": {"x": {"field": "d", "type": "temporal"}, "y": {"field": "v", "type": "quantitative"}, "text": {"field": "t"}}},
   {"data": {"values": [{"d": "2008-07-01", "v": 97, "t": "▲RSI(14) 43.21"}]}, "mark": {"type": "text", "font": "DejaVu Sans Mono", "fontSize": 6, "align": "left", "baseline": "middle", "color": "#000000"},
    "encoding": {"x": {"field": "d", "type": "temporal"}, "y": {"field": "v", "type": "quantitative"}, "text": {"field": "t"}}}
  ]
 },
 {
  "width": 461, "height": 212,
  "layer": [
   {"data": {"name": "price"}, "mark": {"type": "rule", "strokeWidth": 1.4},
    "encoding": {
     "x": {"field": "d", "type": "temporal",
      "scale": {"type": "utc", "domain": [{"year": 2008, "month": 6, "date": 28, "utc": true}, {"year": 2010, "month": 7, "date": 2, "utc": true}]},
      "axis": {"labels": true, "grid": true, "tickCount": 200, "labelPadding": 0, "maxExtent": 7, "labelFontSize": 6.5, "labelOverlap": false,
       "labelExpr": "utcmonth(datum.value) == 0 ? utcFormat(datum.value, '%Y') : utcFormat(datum.value, '%b')",
       "labelFontWeight": {"condition": {"test": "utcmonth(datum.value) == 0", "value": "bold"}, "value": "normal"},
       "values": [{"year":2008,"month":8,"date":1,"utc":true},{"year":2008,"month":9,"date":1,"utc":true},{"year":2008,"month":10,"date":1,"utc":true},{"year":2008,"month":11,"date":1,"utc":true},{"year":2008,"month":12,"date":1,"utc":true},{"year":2009,"month":1,"date":1,"utc":true},{"year":2009,"month":2,"date":1,"utc":true},{"year":2009,"month":3,"date":1,"utc":true},{"year":2009,"month":4,"date":1,"utc":true},{"year":2009,"month":5,"date":1,"utc":true},{"year":2009,"month":6,"date":1,"utc":true},{"year":2009,"month":7,"date":1,"utc":true},{"year":2009,"month":8,"date":1,"utc":true},{"year":2009,"month":9,"date":1,"utc":true},{"year":2009,"month":10,"date":1,"utc":true},{"year":2009,"month":11,"date":1,"utc":true},{"year":2009,"month":12,"date":1,"utc":true},{"year":2010,"month":1,"date":1,"utc":true},{"year":2010,"month":2,"date":1,"utc":true},{"year":2010,"month":3,"date":1,"utc":true},{"year":2010,"month":4,"date":1,"utc":true},{"year":2010,"month":5,"date":1,"utc":true},{"year":2010,"month":6,"date":1,"utc":true}]}},
     "y": {"field": "l", "type": "quantitative", "scale": {"domain": [6.405, 12.15], "nice": false, "zero": false},
       "axis": {"orient": "right", "tickCount": 200, "values": [6.5,6.75,7,7.25,7.5,7.75,8,8.25,8.5,8.75,9,9.25,9.5,9.75,10,10.25,10.5,10.75,11,11.25,11.5], "format": ".2f", "grid": true, "labelPadding": 5, "labelOverlap": false}},
     "y2": {"field": "h"},
     "color": {"condition": {"test": "datum.c >= datum.o", "value": "#000000"}, "value": "#E00000"}}},
   {"data": {"name": "ema"}, "mark": {"type": "line", "color": "#208A20", "strokeWidth": 1}, "encoding": {"x": {"field": "d", "type": "temporal"}, "y": {"field": "e50", "type": "quantitative"}}},
   {"data": {"name": "ema"}, "mark": {"type": "line", "color": "#E03A10", "strokeWidth": 1}, "encoding": {"x": {"field": "d", "type": "temporal"}, "y": {"field": "e25", "type": "quantitative"}}},
   {"data": {"name": "ema"}, "mark": {"type": "line", "color": "#1C1C6E", "strokeWidth": 1}, "encoding": {"x": {"field": "d", "type": "temporal"}, "y": {"field": "e13", "type": "quantitative"}}},
   {"data": {"name": "trend"}, "mark": {"type": "line", "color": "#15158C", "strokeWidth": 2.6}, "encoding": {"x": {"field": "d", "type": "temporal"}, "y": {"field": "v", "type": "quantitative"}}},
   {"data": {"values": [{"d": "2008-07-06", "v": 11.66, "t": "$GOLD:$XJY (Daily) 10.99"}]}, "mark": {"type": "text", "fontWeight": "bold", "fontSize": 6, "align": "left", "baseline": "middle", "color": "#000000"},
    "encoding": {"x": {"field": "d", "type": "temporal"}, "y": {"field": "v", "type": "quantitative"}, "text": {"field": "t"}}},
   {"data": {"values": [{"d": "2008-06-30", "v": 11.51, "t": "—EMA(13) 11.13"}]}, "mark": {"type": "text", "fontSize": 6, "align": "left", "baseline": "middle", "color": "#1C1C6E"},
    "encoding": {"x": {"field": "d", "type": "temporal"}, "y": {"field": "v", "type": "quantitative"}, "text": {"field": "t"}}},
   {"data": {"values": [{"d": "2008-06-30", "v": 11.35, "t": "—EMA(25) 11.14"}]}, "mark": {"type": "text", "fontSize": 6, "align": "left", "baseline": "middle", "color": "#E03A10"},
    "encoding": {"x": {"field": "d", "type": "temporal"}, "y": {"field": "v", "type": "quantitative"}, "text": {"field": "t"}}},
   {"data": {"values": [{"d": "2008-06-30", "v": 11.19, "t": "—EMA(50) 11.02"}]}, "mark": {"type": "text", "fontSize": 6, "align": "left", "baseline": "middle", "color": "#208A20"},
    "encoding": {"x": {"field": "d", "type": "temporal"}, "y": {"field": "v", "type": "quantitative"}, "text": {"field": "t"}}},
   {"data": {"values": [{"d": "2008-06-30", "v": 11.03, "t": "ıl Volume undef"}]}, "mark": {"type": "text", "fontSize": 6, "align": "left", "baseline": "middle", "color": "#4A9AB0"},
    "encoding": {"x": {"field": "d", "type": "temporal"}, "y": {"field": "v", "type": "quantitative"}, "text": {"field": "t"}}},
   {"data": {"values": [
      {"d": "2009-07-05", "v": 7.44, "t": "04/29/10 - Breakout from cup & handle pattern is in progress."},
      {"d": "2009-07-05", "v": 7.25, "t": "05/20/10 - Ideally, the 10.80 area will hold as support."},
      {"d": "2009-07-05", "v": 7.07, "t": "06/07/10 - 10.80 broke but gold has moved back above the simline."}]},
    "mark": {"type": "text", "fontWeight": "bold", "fontSize": 6.2, "align": "left", "baseline": "middle", "color": "#1818C0"},
    "encoding": {"x": {"field": "d", "type": "temporal"}, "y": {"field": "v", "type": "quantitative"}, "text": {"field": "t"}}}
  ]
 },
 {
  "width": 461, "height": 71,
  "layer": [
   {"data": {"name": "macd"}, "mark": {"type": "area", "color": "#9C9CB2", "opacity": 1},
    "encoding": {
     "x": {"field": "d", "type": "temporal",
      "scale": {"type": "utc", "domain": [{"year": 2008, "month": 6, "date": 28, "utc": true}, {"year": 2010, "month": 7, "date": 2, "utc": true}]},
      "axis": {"labels": true, "grid": true, "tickCount": 200, "labelPadding": 1, "labelFontSize": 6.5, "labelOverlap": false,
       "labelExpr": "utcmonth(datum.value) == 0 ? utcFormat(datum.value, '%Y') : utcFormat(datum.value, '%b')",
       "labelFontWeight": {"condition": {"test": "utcmonth(datum.value) == 0", "value": "bold"}, "value": "normal"},
       "values": [{"year":2008,"month":8,"date":1,"utc":true},{"year":2008,"month":9,"date":1,"utc":true},{"year":2008,"month":10,"date":1,"utc":true},{"year":2008,"month":11,"date":1,"utc":true},{"year":2008,"month":12,"date":1,"utc":true},{"year":2009,"month":1,"date":1,"utc":true},{"year":2009,"month":2,"date":1,"utc":true},{"year":2009,"month":3,"date":1,"utc":true},{"year":2009,"month":4,"date":1,"utc":true},{"year":2009,"month":5,"date":1,"utc":true},{"year":2009,"month":6,"date":1,"utc":true},{"year":2009,"month":7,"date":1,"utc":true},{"year":2009,"month":8,"date":1,"utc":true},{"year":2009,"month":9,"date":1,"utc":true},{"year":2009,"month":10,"date":1,"utc":true},{"year":2009,"month":11,"date":1,"utc":true},{"year":2009,"month":12,"date":1,"utc":true},{"year":2010,"month":1,"date":1,"utc":true},{"year":2010,"month":2,"date":1,"utc":true},{"year":2010,"month":3,"date":1,"utc":true},{"year":2010,"month":4,"date":1,"utc":true},{"year":2010,"month":5,"date":1,"utc":true},{"year":2010,"month":6,"date":1,"utc":true}]}},
     "y": {"field": "hist", "type": "quantitative", "scale": {"domain": [-0.615, 0.477], "nice": false, "zero": false},
       "axis": {"orient": "right", "tickCount": 200, "values": [-0.4, -0.2, 0, 0.2, 0.4], "format": ".1f", "grid": true, "labelPadding": 5, "labelOverlap": false}},
     "y2": {"datum": 0}}},
   {"data": {"name": "macd"}, "mark": {"type": "line", "color": "#6A5ACD", "strokeWidth": 1}, "encoding": {"x": {"field": "d", "type": "temporal"}, "y": {"field": "sig", "type": "quantitative"}}},
   {"data": {"name": "macd"}, "mark": {"type": "line", "color": "#000000", "strokeWidth": 1.4}, "encoding": {"x": {"field": "d", "type": "temporal"}, "y": {"field": "macd", "type": "quantitative"}}},
   {"data": {"values": [{"d": "2008-07-03", "v": 0.431, "t": "—MACD(12,26,9) -0.003,"}]}, "mark": {"type": "text", "fontSize": 6, "align": "left", "baseline": "middle", "color": "#000000"},
    "encoding": {"x": {"field": "d", "type": "temporal"}, "y": {"field": "v", "type": "quantitative"}, "text": {"field": "t"}}},
   {"data": {"values": [{"d": "2008-12-01", "v": 0.431, "t": "0.038,"}]}, "mark": {"type": "text", "fontSize": 6, "align": "left", "baseline": "middle", "color": "#6A5ACD"},
    "encoding": {"x": {"field": "d", "type": "temporal"}, "y": {"field": "v", "type": "quantitative"}, "text": {"field": "t"}}},
   {"data": {"values": [{"d": "2009-01-03", "v": 0.431, "t": "-0.042"}]}, "mark": {"type": "text", "fontSize": 6, "align": "left", "baseline": "middle", "color": "#8A8A9A"},
    "encoding": {"x": {"field": "d", "type": "temporal"}, "y": {"field": "v", "type": "quantitative"}, "text": {"field": "t"}}}
  ]
 }
]
}
